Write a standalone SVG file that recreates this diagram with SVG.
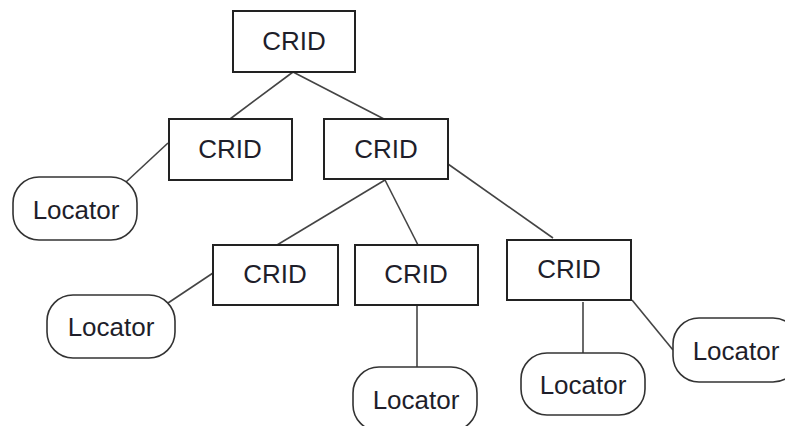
<svg xmlns="http://www.w3.org/2000/svg" width="785" height="426" viewBox="0 0 785 426">
<style>
.box{fill:#fff;stroke:#222;stroke-width:2}
.loc{fill:#fff;stroke:#333;stroke-width:1.6}
.lbl{font-family:"Liberation Sans",Arial,sans-serif;font-size:26px;fill:#1e1e2a;text-anchor:middle}
.edge{stroke:#444;stroke-width:1.6;fill:none}
</style>
<rect width="785" height="426" fill="#fff"/>
<g id="connectors">
<line class="edge" x1="293" y1="72" x2="230" y2="119"/>
<line class="edge" x1="293" y1="72" x2="384" y2="119"/>
<line class="edge" x1="168" y1="143" x2="126" y2="182"/>
<line class="edge" x1="385" y1="180" x2="277" y2="245"/>
<line class="edge" x1="385" y1="180" x2="418" y2="245"/>
<line class="edge" x1="448" y1="164" x2="553" y2="238"/>
<line class="edge" x1="213" y1="273" x2="168" y2="303"/>
<line class="edge" x1="417" y1="305" x2="417" y2="367"/>
<line class="edge" x1="583" y1="302" x2="583" y2="353"/>
<line class="edge" x1="632" y1="300" x2="673" y2="350"/>
</g>
<g id="crid-root"><rect class="box" x="233" y="11" width="122" height="61"/><text class="lbl" x="294" y="50">CRID</text></g>
<g id="crid-l"><rect class="box" x="169" y="119" width="123" height="61"/><text class="lbl" x="230" y="158">CRID</text></g>
<g id="crid-r"><rect class="box" x="324" y="119" width="124" height="60"/><text class="lbl" x="386" y="158">CRID</text></g>
<g id="crid-a"><rect class="box" x="213" y="245" width="125" height="60"/><text class="lbl" x="275" y="283">CRID</text></g>
<g id="crid-b"><rect class="box" x="355" y="245" width="123" height="60"/><text class="lbl" x="416" y="283">CRID</text></g>
<g id="crid-c"><rect class="box" x="507" y="240" width="124" height="60"/><text class="lbl" x="569" y="278">CRID</text></g>
<g id="loc-1"><rect class="loc" x="13" y="177" width="124" height="63" rx="26" ry="26"/><text class="lbl" x="76" y="219">Locator</text></g>
<g id="loc-2"><rect class="loc" x="47" y="295" width="128" height="63" rx="26" ry="26"/><text class="lbl" x="111" y="336">Locator</text></g>
<g id="loc-3"><rect class="loc" x="353" y="367" width="124" height="64" rx="26" ry="26"/><text class="lbl" x="416" y="409">Locator</text></g>
<g id="loc-4"><rect class="loc" x="521" y="353" width="124" height="62" rx="26" ry="26"/><text class="lbl" x="583" y="394">Locator</text></g>
<g id="loc-5"><rect class="loc" x="673" y="318" width="126" height="64" rx="26" ry="26"/><text class="lbl" x="736" y="360">Locator</text></g>
</svg>
